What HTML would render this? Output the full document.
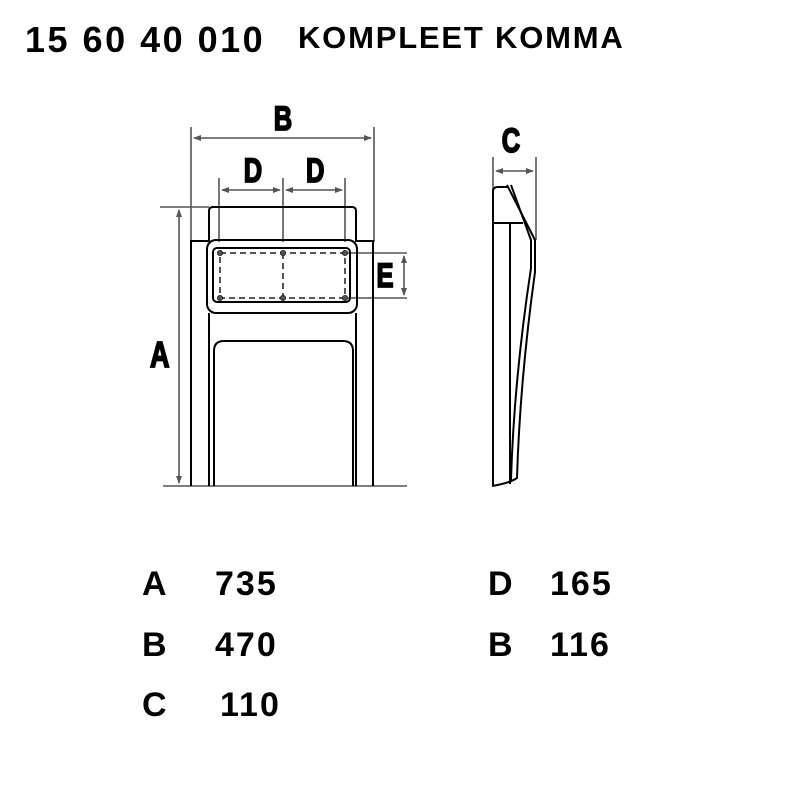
<!DOCTYPE html>
<html><head><style>
body{margin:0;background:#fff;width:801px;height:801px;overflow:hidden}
svg{display:block}
text{font-family:"Liberation Sans",sans-serif;font-weight:bold;fill:#000}
.lbl{stroke:#000;stroke-width:1.8}
</style></head><body>
<svg width="801" height="801" viewBox="0 0 801 801">
<defs>
<marker id="ar" markerWidth="8" markerHeight="8" refX="7" refY="4" orient="auto-start-reverse" markerUnits="userSpaceOnUse"><path d="M0,1 L8,4 L0,7z" fill="#555"/></marker>
</defs>
<text x="25" y="52" font-size="36" letter-spacing="2.5">15 60 40 010</text>
<text x="298" y="48" font-size="31" letter-spacing="1.8">KOMPLEET KOMMA</text>

<g stroke="#555" stroke-width="1.6" fill="none">
<line x1="191" y1="127" x2="191" y2="242"/>
<line x1="374" y1="127" x2="374" y2="242"/>
<line x1="194" y1="138" x2="371" y2="138" marker-start="url(#ar)" marker-end="url(#ar)"/>
<line x1="219" y1="178" x2="219" y2="242"/>
<line x1="283" y1="178" x2="283" y2="242"/>
<line x1="345" y1="178" x2="345" y2="242"/>
<line x1="222" y1="190" x2="280" y2="190" marker-start="url(#ar)" marker-end="url(#ar)"/>
<line x1="286" y1="190" x2="342" y2="190" marker-start="url(#ar)" marker-end="url(#ar)"/>
<line x1="160" y1="207" x2="209" y2="207"/>
<line x1="179" y1="210" x2="179" y2="483" marker-start="url(#ar)" marker-end="url(#ar)"/>
<line x1="163" y1="486" x2="407" y2="486"/>
<line x1="345" y1="253" x2="407" y2="253"/>
<line x1="345" y1="298" x2="407" y2="298"/>
<line x1="404" y1="256" x2="404" y2="295" marker-start="url(#ar)" marker-end="url(#ar)"/>
<line x1="493" y1="157" x2="493" y2="190"/>
<line x1="536" y1="157" x2="536" y2="240"/>
<line x1="496" y1="171" x2="533" y2="171" marker-start="url(#ar)" marker-end="url(#ar)"/>
</g>

<g stroke="#000" stroke-width="2" fill="none">
<path d="M191,486 V241 H209 V211 Q209,207 213,207 H352 Q356,207 356,211 V241 H373 V486"/>
<rect x="207" y="240" width="150" height="73" rx="9"/>
<rect x="213" y="248" width="137" height="54" rx="4"/>
<line x1="209" y1="313" x2="209" y2="486"/>
<line x1="356" y1="313" x2="356" y2="486"/>
<path d="M214,486 V351 Q214,341 224,341 H343 Q353,341 353,351 V486"/>
</g>
<g stroke="#555" stroke-width="2" fill="none" stroke-dasharray="6,4">
<rect x="220" y="253" width="125" height="45"/>
<line x1="283" y1="253" x2="283" y2="298"/>
</g>
<g fill="#555" stroke="#222" stroke-width="1">
<circle cx="220" cy="253" r="2.5"/><circle cx="283" cy="253" r="2.5"/><circle cx="345" cy="253" r="2.5"/>
<circle cx="220" cy="298" r="2.5"/><circle cx="283" cy="298" r="2.5"/><circle cx="345" cy="298" r="2.5"/>
</g>

<g stroke="#000" stroke-width="2" fill="none">
<path d="M493,486 V190 Q494,187 498,187 H508"/>
<path d="M507,185 L535,240 V272 Q520,380 517,478 Q510,483 492,486"/>
<path d="M511,185 L531,240 V268 Q514,380 511,480"/>
<line x1="493" y1="223" x2="523" y2="223"/>
<line x1="510" y1="223" x2="510" y2="484"/>
</g>

<g transform="scale(0.75,1)">
<text class="lbl" x="365" y="130" font-size="34">B</text>
<text class="lbl" x="325" y="182" font-size="34">D</text>
<text class="lbl" x="408" y="182" font-size="34">D</text>
<text class="lbl" x="200" y="367" font-size="36">A</text>
<text class="lbl" x="502" y="287" font-size="34">E</text>
<text class="lbl" x="669" y="152" font-size="34">C</text>
</g>

<g font-size="34" letter-spacing="2">
<text x="142" y="595">A</text><text x="215" y="595">735</text>
<text x="142" y="656">B</text><text x="215" y="656">470</text>
<text x="142" y="716">C</text><text x="220" y="716">110</text>
<text x="488" y="595">D</text><text x="550" y="595">165</text>
<text x="488" y="656">B</text><text x="550" y="656">116</text>
</g>
</svg>
</body></html>
